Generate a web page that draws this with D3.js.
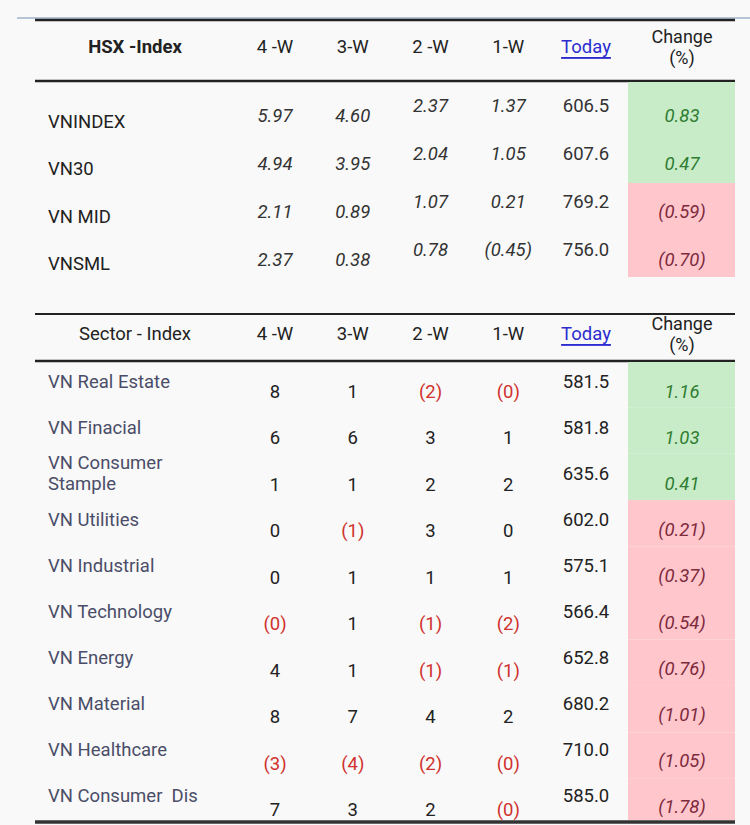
<!DOCTYPE html>
<html>
<head>
<meta charset="utf-8">
<script src="https://cdn.jsdelivr.net/npm/d3@7"></script>
<style>
  html, body { margin: 0; padding: 0; background: #f9f9f9; }
  svg { display: block; font-family: Roboto, "Noto Sans", sans-serif; }
</style>
</head>
<body>
<svg id="chart" width="750" height="825"></svg>
<script>
// ---------------- DATA ----------------
const columns = ["4 -W", "3-W", "2 -W", "1-W", "Today"];
const changeHeader = ["Change", "(%)"];

const hsxTitle = "HSX -Index";
const hsxNames = ["VNINDEX", "VN30", "VN MID", "VNSML"];
const hsx4W = [5.97, 4.94, 2.11, 2.37];
const hsx3W = [4.60, 3.95, 0.89, 0.38];
const hsx2W = [2.37, 2.04, 1.07, 0.78];
const hsx1W = [1.37, 1.05, 0.21, -0.45];
const hsxToday = [606.5, 607.6, 769.2, 756.0];
const hsxChange = [0.83, 0.47, -0.59, -0.70];

const sectorTitle = "Sector - Index";
const sectorNames = [["VN Real Estate"], ["VN Finacial"], ["VN Consumer", "Stample"], ["VN Utilities"],
  ["VN Industrial"], ["VN Technology"], ["VN Energy"], ["VN Material"], ["VN Healthcare"], ["VN Consumer  Dis"]];
// -0 marks a small negative value shown as "(0)"
const sector4W = [8, 6, 1, 0, 0, -0, 4, 8, -3, 7];
const sector3W = [1, 6, 1, -1, 1, 1, 1, 7, -4, 3];
const sector2W = [-2, 3, 2, 3, 1, -1, -1, 4, -2, 2];
const sector1W = [-0, 1, 2, 0, 1, -2, -1, 2, -0, -0];
const sectorToday = [581.5, 581.8, 635.6, 602.0, 575.1, 566.4, 652.8, 680.2, 710.0, 585.0];
const sectorChange = [1.16, 1.03, 0.41, -0.21, -0.37, -0.54, -0.76, -1.01, -1.05, -1.78];

// ---------------- HELPERS ----------------
const isNeg = v => v < 0 || Object.is(v, -0);
const fmt = (v, dec) => isNeg(v) ? "(" + Math.abs(v).toFixed(dec) + ")" : v.toFixed(dec);

const svg = d3.select("#chart");
svg.append("rect").attr("width", 750).attr("height", 825).attr("fill", "#f9f9f9");

const x = d3.scalePoint().domain(columns).range([275, 586]);
const xChange = 682, cellL = 628, cellR = 735;
const lineL = 35, lineR = 735;
const FS = 18.5;

const C = {
  text: "#222", val: "#333", label: "#4a4d68", red: "#d0312d",
  link: "#2b2bd0", greenBg: "#c8ecc8", redBg: "#ffc6cc", greenTx: "#2f7d32", redTx: "#7d2a3c"
};

function hline(y, w, color, l = lineL, r = lineR) {
  svg.append("line").attr("x1", l).attr("x2", r).attr("y1", y).attr("y2", y)
    .attr("stroke", color).attr("stroke-width", w);
}

function header(yMid, title, bold) {
  svg.append("text").attr("x", 135).attr("y", yMid).attr("text-anchor", "middle")
    .attr("dominant-baseline", "central").attr("font-size", FS)
    .attr("font-weight", bold ? 700 : 400).attr("fill", C.text).text(title);
  svg.selectAll(null).data(columns).enter().append("text")
    .attr("x", d => x(d)).attr("y", yMid).attr("text-anchor", "middle")
    .attr("dominant-baseline", "central").attr("font-size", FS)
    .attr("fill", d => d === "Today" ? C.link : C.text)
    .attr("text-decoration", d => d === "Today" ? "underline" : null)
    .text(d => d);
  svg.selectAll(null).data(changeHeader).enter().append("text")
    .attr("x", xChange).attr("y", (d, i) => yMid - 11 + i * 21).attr("text-anchor", "middle")
    .attr("dominant-baseline", "central").attr("font-size", FS - 0.5).attr("fill", C.text).text(d => d);
}

// ---------------- TOP TABLE ----------------
hline(18, 1.5, "#9fb3c8", 17, 750);
hline(20, 2.5, "#222");
header(47, hsxTitle, true);
hline(81, 2.5, "#222");

const nTop = hsxNames.length - 1;
const yTop = d3.scaleLinear().domain([0, nTop]).range([116, 260]);
const yTopLabel = d3.scaleLinear().domain([0, nTop]).range([122, 264]);
const topBound = i => i === 0 ? 82 : i === hsxNames.length ? 277 : (yTop(i - 1) + yTop(i)) / 2 - 5;

svg.selectAll(null).data(hsxChange).enter().append("rect")
  .attr("x", cellL).attr("width", cellR - cellL)
  .attr("y", (d, i) => topBound(i)).attr("height", (d, i) => topBound(i + 1) - topBound(i))
  .attr("fill", d => d >= 0 ? C.greenBg : C.redBg);

hsxNames.forEach((name, i) => {
  const y0 = yTop(i);
  svg.append("text").attr("x", 48).attr("y", yTopLabel(i)).attr("dominant-baseline", "central")
    .attr("font-size", FS).attr("fill", C.text).text(name);
  const vals = [[hsx4W[i], 0], [hsx3W[i], 0], [hsx2W[i], -10], [hsx1W[i], -10]];
  vals.forEach(([v, dy], j) => {
    svg.append("text").attr("x", x(columns[j])).attr("y", y0 + dy).attr("text-anchor", "middle")
      .attr("dominant-baseline", "central").attr("font-size", FS).attr("font-style", "italic")
      .attr("fill", C.val).text(fmt(v, 2));
  });
  svg.append("text").attr("x", x("Today")).attr("y", y0 - 10).attr("text-anchor", "middle")
    .attr("dominant-baseline", "central").attr("font-size", FS).attr("fill", C.val)
    .text(hsxToday[i].toFixed(1));
  svg.append("text").attr("x", xChange).attr("y", y0).attr("text-anchor", "middle")
    .attr("dominant-baseline", "central").attr("font-size", FS).attr("font-style", "italic")
    .attr("fill", hsxChange[i] >= 0 ? C.greenTx : C.redTx).text(fmt(hsxChange[i], 2));
});

// ---------------- SECTOR TABLE ----------------
hline(314, 1.8, "#222");
header(334, sectorTitle, false);
hline(361, 2.5, "#222");

const nS = sectorNames.length - 1;
const yS = d3.scaleLinear().domain([0, nS]).range([392, 810]);
const ySLabel = d3.scaleLinear().domain([0, nS]).range([382, 796]);
const ySChange = d3.scaleLinear().domain([0, nS]).range([392, 807]);
const sBound = i => i === 0 ? 362 : i === sectorNames.length ? 820 : (yS(i - 1) + yS(i)) / 2 - 8;

svg.selectAll(null).data(sectorChange).enter().append("rect")
  .attr("x", cellL).attr("width", cellR - cellL)
  .attr("y", (d, i) => sBound(i)).attr("height", (d, i) => sBound(i + 1) - sBound(i))
  .attr("fill", d => d >= 0 ? C.greenBg : C.redBg);

sectorNames.forEach((lines, i) => {
  const y0 = yS(i);
  const yl = ySLabel(i);
  lines.forEach((ln, k) => {
    const ly = lines.length === 1 ? yl : yl - 11 + k * 21;
    svg.append("text").attr("x", 48).attr("y", ly).attr("dominant-baseline", "central")
      .attr("font-size", FS).attr("fill", C.label).attr("xml:space", "preserve")
      .style("white-space", "pre").text(ln);
  });
  [sector4W[i], sector3W[i], sector2W[i], sector1W[i]].forEach((v, j) => {
    svg.append("text").attr("x", x(columns[j])).attr("y", y0).attr("text-anchor", "middle")
      .attr("dominant-baseline", "central").attr("font-size", FS)
      .attr("fill", isNeg(v) ? C.red : C.text).text(fmt(v, 0));
  });
  svg.append("text").attr("x", x("Today")).attr("y", yl).attr("text-anchor", "middle")
    .attr("dominant-baseline", "central").attr("font-size", FS).attr("fill", C.text)
    .text(sectorToday[i].toFixed(1));
  svg.append("text").attr("x", xChange).attr("y", ySChange(i)).attr("text-anchor", "middle")
    .attr("dominant-baseline", "central").attr("font-size", FS).attr("font-style", "italic")
    .attr("fill", sectorChange[i] >= 0 ? C.greenTx : C.redTx).text(fmt(sectorChange[i], 2));
});

hline(822, 3.5, "#333");
</script>
</body>
</html>
